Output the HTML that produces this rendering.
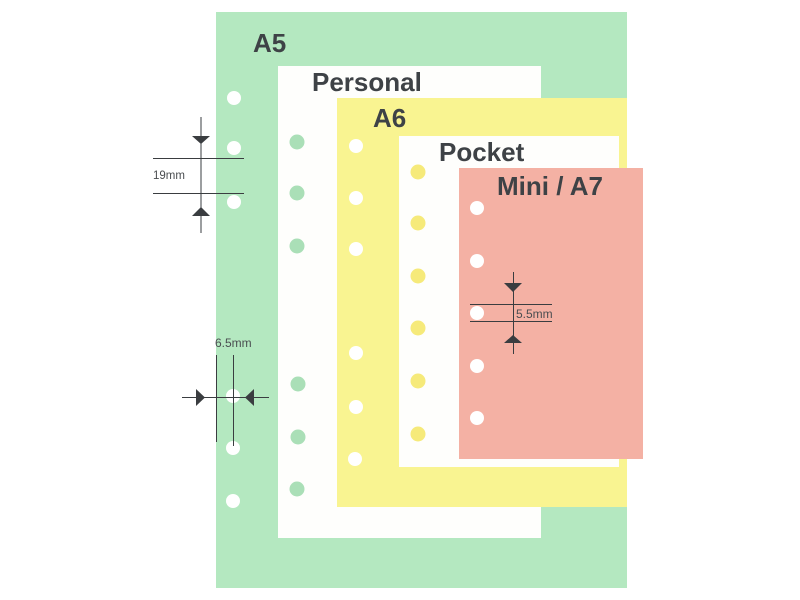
<!DOCTYPE html>
<html><head><meta charset="utf-8"><style>
html,body{margin:0;padding:0;background:#fff;}
svg{display:block;}
.lbl{font-family:"Liberation Sans",Arial,sans-serif;font-weight:bold;font-size:26px;fill:#3e4246;}
.dim{font-family:"Liberation Sans",Arial,sans-serif;font-size:11.5px;fill:#4a4d50;}
</style></head><body>
<svg width="800" height="600" viewBox="0 0 800 600" xmlns="http://www.w3.org/2000/svg">
<rect x="0" y="0" width="800" height="600" fill="#fff"/>
<!-- A5 -->
<rect x="216" y="12" width="411" height="576" fill="#b4e8c0"/>
<g fill="#fff">
<circle cx="234" cy="98" r="7"/><circle cx="234" cy="148" r="7"/><circle cx="234" cy="202" r="7"/>
<circle cx="233" cy="396" r="7"/><circle cx="233" cy="448" r="7"/><circle cx="233" cy="501" r="7"/>
</g>
<text class="lbl" x="253" y="52">A5</text>
<!-- Personal -->
<rect x="278" y="66" width="263" height="472" fill="#fefefc"/>
<g fill="#aadfb7">
<circle cx="297" cy="142" r="7.5"/><circle cx="297" cy="193" r="7.5"/><circle cx="297" cy="246" r="7.5"/>
<circle cx="298" cy="384" r="7.5"/><circle cx="298" cy="437" r="7.5"/><circle cx="297" cy="489" r="7.5"/>
</g>
<text class="lbl" x="312" y="91">Personal</text>
<!-- A6 -->
<rect x="337" y="98" width="290" height="409" fill="#f9f491"/>
<g fill="#fff">
<circle cx="356" cy="146" r="7"/><circle cx="356" cy="198" r="7"/><circle cx="356" cy="249" r="7"/>
<circle cx="356" cy="353" r="7"/><circle cx="356" cy="407" r="7"/><circle cx="355" cy="459" r="7"/>
</g>
<text class="lbl" x="373" y="127">A6</text>
<!-- Pocket -->
<rect x="399" y="136" width="220" height="331" fill="#fefefc"/>
<g fill="#f6ea7a">
<circle cx="418" cy="172" r="7.5"/><circle cx="418" cy="223" r="7.5"/><circle cx="418" cy="276" r="7.5"/>
<circle cx="418" cy="328" r="7.5"/><circle cx="418" cy="381" r="7.5"/><circle cx="418" cy="434" r="7.5"/>
</g>
<text class="lbl" x="439" y="161">Pocket</text>
<!-- Mini -->
<rect x="459" y="168" width="184" height="291" fill="#f4b1a4"/>
<g fill="#fff">
<circle cx="477" cy="208" r="7"/><circle cx="477" cy="261" r="7"/><circle cx="477" cy="313" r="7"/>
<circle cx="477" cy="366" r="7"/><circle cx="477" cy="418" r="7"/>
</g>
<text class="lbl" x="497" y="195">Mini / A7</text>

<!-- 19mm -->
<g stroke="#3a3d40" stroke-width="1">
<line x1="201" y1="117" x2="201" y2="233"/>
<line x1="153" y1="158.5" x2="244" y2="158.5"/>
<line x1="153" y1="193.5" x2="244" y2="193.5"/>
</g>
<polygon points="192,136 210,136 201,144" fill="#3a3d40"/>
<polygon points="192,216 210,216 201,207" fill="#3a3d40"/>
<text class="dim" x="153" y="179">19mm</text>

<!-- 6.5mm -->
<g stroke="#3a3d40" stroke-width="1">
<line x1="216.5" y1="355" x2="216.5" y2="442"/>
<line x1="233.5" y1="355" x2="233.5" y2="446"/>
<line x1="182" y1="397.5" x2="269" y2="397.5"/>
</g>
<polygon points="196,389 196,406 205,397.5" fill="#3a3d40"/>
<polygon points="254,389 254,406 245,397.5" fill="#3a3d40"/>
<text class="dim" x="215" y="347" style="font-size:12px">6.5mm</text>

<!-- 5.5mm -->
<g stroke="#3a3d40" stroke-width="1">
<line x1="513.5" y1="272" x2="513.5" y2="354"/>
<line x1="470" y1="304.5" x2="552" y2="304.5"/>
<line x1="470" y1="321.5" x2="552" y2="321.5"/>
</g>
<polygon points="504,283 522,283 513,292" fill="#3a3d40"/>
<polygon points="504,343 522,343 513,335" fill="#3a3d40"/>
<text class="dim" x="516" y="318" style="font-size:12px">5.5mm</text>
</svg>
</body></html>
